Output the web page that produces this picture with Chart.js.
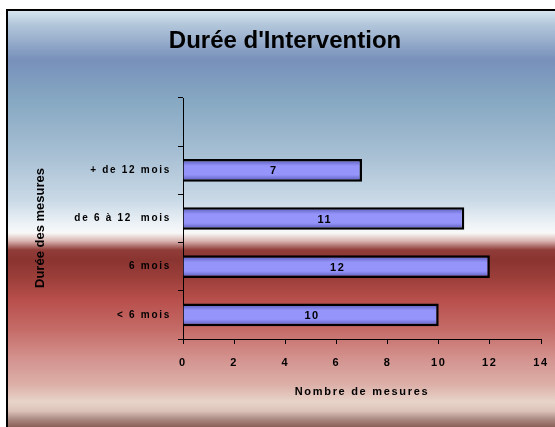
<!DOCTYPE html>
<html lang="fr">
<head>
<meta charset="utf-8">
<title>Durée d'Intervention</title>
<script src="https://cdn.jsdelivr.net/npm/chart.js@4/dist/chart.umd.min.js"></script>
<style>
  html, body { margin: 0; padding: 0; background: #fff; overflow: hidden; }
  canvas { display: block; }
</style>
</head>
<body>
<canvas id="dureeChart" width="555" height="427"></canvas>
<script>
// Données
const titre = "Durée d'Intervention";
const categories = ["", "+ de 12 mois", "de 6 à 12  mois", "6 mois", "< 6 mois"];
const nombreMesures = [null, 7, 11, 12, 10];
const titreX = "Nombre de mesures";
const titreY = "Durée des mesures";
const xMin = 0, xMax = 14, xPas = 2;

const police = "'Liberation Sans', Arial, sans-serif";
Chart.defaults.font.family = police;

// Fond dégradé bleu / rouge et cadre
const fond = {
    id: "fond",
    beforeDraw(chart) {
        const ctx = chart.ctx;
        const W = chart.width, H = chart.height;
        ctx.save();
        ctx.fillStyle = "#fff";
        ctx.fillRect(0, 0, W, H);
        const y0 = 10, y1 = H;
        const g = ctx.createLinearGradient(0, y0, 0, y1);
        const stops = [
            [10, "#d8e6f0"], [25, "#b2c6da"], [60, "#7890bb"], [100, "#86a8c2"],
            [150, "#a4bdd2"], [200, "#c9d9e6"], [225, "#eef3f7"], [233, "#f8f8f8"],
            [241, "#d8b4b0"], [250, "#903c38"], [260, "#8a3430"], [280, "#9e403c"],
            [300, "#b84f4c"], [330, "#c56c68"], [360, "#d49490"], [385, "#dcb0a8"],
            [402, "#e8d4ca"], [411, "#dcc2b8"], [419, "#ac8c84"], [427, "#8a6058"]
        ];
        stops.forEach(([y, c]) => g.addColorStop((y - y0) / (y1 - y0), c));
        ctx.fillStyle = g;
        ctx.fillRect(7, 10, W - 7, H - 10);
        // cadre : bord gauche et bord haut
        ctx.fillStyle = "#000";
        ctx.fillRect(6, 9, W - 6, 2);
        ctx.fillRect(6, 9, 2, H - 9);
        ctx.restore();
        ctx.letterSpacing = "1.7px";
    },
    afterDatasetsDraw(chart) {
        const ctx = chart.ctx;
        const meta = chart.getDatasetMeta(0);
        ctx.save();
        ctx.letterSpacing = "1.5px";
        ctx.font = "bold 11px " + police;
        ctx.fillStyle = "#000";
        ctx.textAlign = "center";
        ctx.textBaseline = "middle";
        meta.data.forEach((bar, i) => {
            const v = nombreMesures[i];
            if (v == null) return;
            ctx.fillText(String(v), (bar.x + bar.base) / 2 + 1, bar.y + 1);
        });
        ctx.restore();
    },
    afterDraw(chart) {
        const ctx = chart.ctx;
        ctx.save();
        ctx.letterSpacing = "0px";
        ctx.fillStyle = "#000";
        ctx.textAlign = "center";
        ctx.textBaseline = "middle";
        ctx.font = "bold 24px " + police;
        ctx.fillText(titre, 285, 41);
        ctx.translate(40, 228);
        ctx.rotate(-Math.PI / 2);
        ctx.font = "bold 13px " + police;
        ctx.fillText(titreY, 0, 0);
        ctx.restore();
    }
};

function degradeBarre(c) {
    const ys = c.chart.scales.y;
    if (!ys || c.dataIndex == null) return "#9494fa";
    const mid = ys.getPixelForValue(c.dataIndex);
    if (!Number.isFinite(mid)) return "#9494fa";
    const g = c.chart.ctx.createLinearGradient(0, mid - 11, 0, mid + 11);
    g.addColorStop(0, "#5858b8");
    g.addColorStop(0.3, "#9494fa");
    g.addColorStop(0.7, "#9494fa");
    g.addColorStop(1, "#5858b8");
    return g;
}

new Chart(document.getElementById("dureeChart"), {
    type: "bar",
    data: {
        labels: categories,
        datasets: [{
            data: nombreMesures,
            backgroundColor: degradeBarre,
            borderColor: "#000",
            borderWidth: 2.5,
            barPercentage: 0.47,
            categoryPercentage: 1
        }]
    },
    options: {
        indexAxis: "y",
        responsive: false,
        devicePixelRatio: 1,
        animation: false,
        layout: { padding: { left: 29, top: 98, right: 14, bottom: 0 } },
        scales: {
            x: {
                min: xMin,
                max: xMax,
                afterFit: s => { s.height = 88; s.paddingLeft = 0; s.paddingRight = 0; },
                ticks: {
                    stepSize: xPas,
                    color: "#000",
                    padding: 12,
                    font: { size: 11, weight: "bold" }
                },
                grid: { drawOnChartArea: false, tickLength: 5, color: "#000" },
                border: { color: "#000", width: 1 },
                title: {
                    display: true,
                    text: titreX,
                    color: "#000",
                    font: { size: 11, weight: "bold" },
                    padding: { top: 0, bottom: 28 }
                }
            },
            y: {
                afterFit: s => { s.width = 154; s.paddingTop = 0; s.paddingBottom = 0; },
                ticks: {
                    color: "#000",
                    padding: 7,
                    font: { size: 10, weight: "bold" }
                },
                grid: { drawOnChartArea: false, tickLength: 5, color: "#000" },
                border: { color: "#000", width: 1 }
            }
        },
        plugins: {
            legend: { display: false },
            tooltip: { enabled: false }
        }
    },
    plugins: [fond]
});
</script>
</body>
</html>
